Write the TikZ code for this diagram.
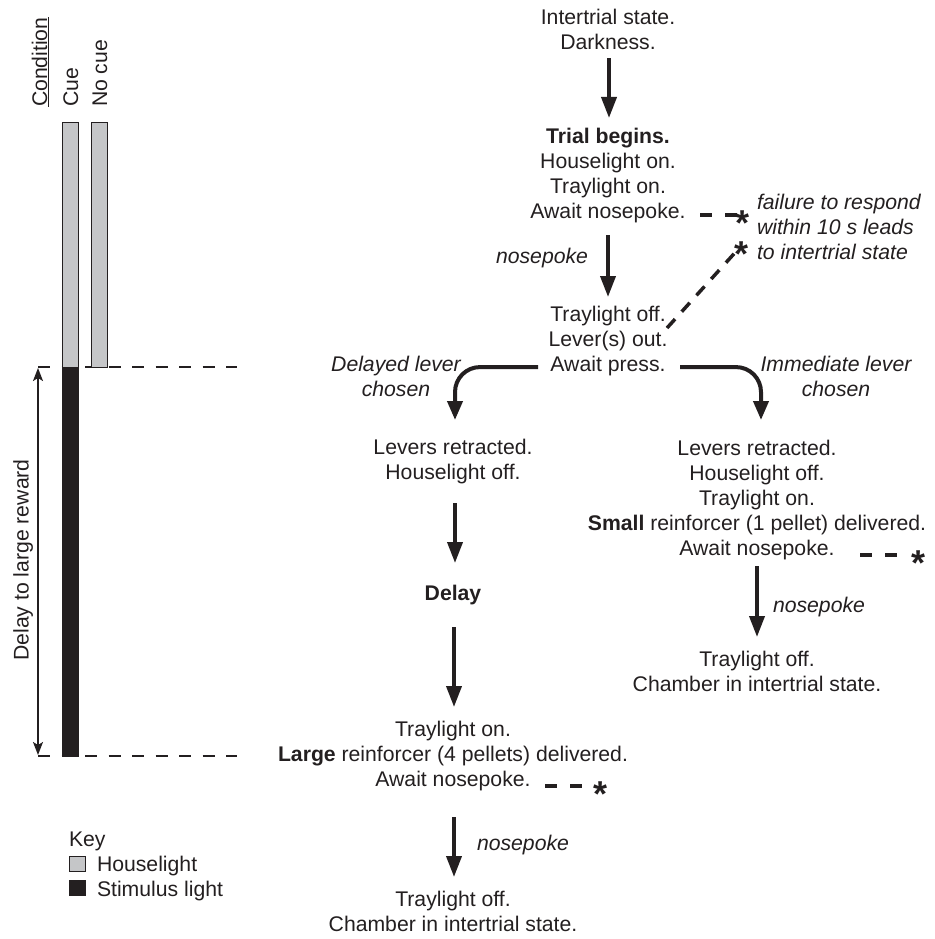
\documentclass[tikz,border=0pt]{standalone}
\usepackage{fontspec}
\setmainfont{Liberation Sans}
\usetikzlibrary{arrows.meta}
\definecolor{ink}{HTML}{231F20}
\definecolor{hl}{HTML}{C5C6C8}
\begin{document}
\begin{tikzpicture}[x=1pt,y=-1pt,
  every node/.style={text=ink, font=\fontsize{21.2}{25}\selectfont, inner sep=0pt, outer sep=0pt},
  stbox/.style={align=center, anchor=north},
  lbl/.style={font=\fontsize{21.2}{25}\selectfont\itshape},
  flowarr/.style={draw=ink, line width=3.8pt, -{Triangle[length=21pt,width=15pt]}},
  brarrow/.style={draw=ink, line width=4pt, rounded corners=25pt, -{Triangle[length=19pt,width=15pt]}},
  fail/.style={draw=ink, line width=3.5pt, dash pattern=on 12pt off 13pt},
  guide/.style={draw=ink, line width=2.5pt, dash pattern=on 12pt off 11.5pt},
  astk/.style={font=\fontsize{36}{36}\selectfont\bfseries, anchor=base, yshift=-20pt},
  dimarr/.style={draw=ink, line width=1.5pt, {Stealth[length=13pt,width=10pt,inset=3pt]}-{Stealth[length=13pt,width=10pt,inset=3pt]}},
]
\useasboundingbox (0,0) rectangle (934,939);

% ---------- left panel ----------
\draw[guide] (38,367) -- (237,367);
\draw[guide] (38,756) -- (237,756);
\filldraw[fill=hl, draw=ink, line width=1pt] (62,123) rectangle (78,367);
\filldraw[fill=ink, draw=ink, line width=1pt] (62,367) rectangle (78,756);
\filldraw[fill=hl, draw=ink, line width=1pt] (91,123) rectangle (107,367);

\node[rotate=90, anchor=base west] (cond) at (47,107) {\underline{Condition}};
\node[rotate=90, anchor=base west] (cue) at (78,107) {Cue};
\node[rotate=90, anchor=base west] (nocue) at (107,107) {No cue};

\coordinate (dtop) at (38,368);
\coordinate (dbot) at (38,755);
\draw[dimarr] (dtop) -- (dbot);
\node[rotate=90, anchor=base] (dlr) at (28.5,560) {Delay to large reward};

\node[anchor=base west] (key) at (69,846) {Key};
\node[draw=ink, fill=hl, line width=1pt, minimum width=16pt, minimum height=15pt, anchor=north west] (kh) at (69.5,856.5) {};
\node[anchor=base west] (khl) at (97,871) {Houselight};
\node[draw=ink, fill=ink, line width=1pt, minimum width=16pt, minimum height=15pt, anchor=north west] (ks) at (69.5,880.5) {};
\node[anchor=base west] (ksl) at (97,896) {Stimulus light};

% ---------- main column ----------
\node[stbox] (n1) at (608,9.3) {Intertrial state.\\Darkness.};
\node[stbox] (n2) at (608,128.3) {\textbf{Trial begins.}\\Houselight on.\\Traylight on.\\Await nosepoke.};
\node[stbox] (n3) at (608,306.3) {Traylight off.\\Lever(s) out.\\Await press.};

\draw[flowarr, shorten <=8.5pt, shorten >=10.3pt] ([xshift=1pt]n1.south) -- ([xshift=1pt]n2.north);
\draw[flowarr, shorten <=12pt, shorten >=9.3pt] (n2.south) -- (n3.north);
\node[lbl, anchor=base east] (np1) at (588,263.5) {nosepoke};

% failure branch
\node[lbl, align=left, anchor=north west] (fail) at (757,194.3) {failure to respond\\within 10 s leads\\to intertrial state};
\coordinate (s1) at (742,215);
\coordinate (s2) at (741,246);
\node[astk] (a1) at (s1) {*};
\node[astk] (a2) at (s2) {*};
\coordinate (d1) at (700,215);
\coordinate (d2) at (667,328);
\draw[fail] (d1) -- (s1);
\draw[fail, dash pattern=on 12pt off 10pt] (d2) -- (s2);

% ---------- left branch ----------
\node[stbox] (L1) at (453,439.3) {Levers retracted.\\Houselight off.};
\node[stbox] (L2) at (453,585.3) {\textbf{Delay}};
\node[stbox] (L3) at (453,721.3) {Traylight on.\\\textbf{Large} reinforcer (4 pellets) delivered.\\Await nosepoke.};
\node[stbox] (L4) at (453,891.3) {Traylight off.\\Chamber in intertrial state.};

\draw[brarrow, shorten >=19.3pt] ([shift={(-10.5,-9)}]n3.south west) -| ([xshift=2pt]L1.north);
\node[lbl, align=center, anchor=north] (dl) at (396,356.3) {Delayed lever\\chosen};

\draw[flowarr, shorten <=19pt, shorten >=22.3pt] ([xshift=2pt]L1.south) -- ([xshift=2pt]L2.north);
\draw[flowarr, shorten <=22pt, shorten >=14.3pt] ([xshift=1pt]L2.south) -- ([xshift=1pt]L3.north);
\draw[flowarr, shorten <=26pt, shorten >=14.3pt] ([xshift=1pt]L3.south) -- ([xshift=1pt]L4.north);
\node[lbl, anchor=base west] (np3) at (477,850.5) {nosepoke};

\coordinate (s4) at (600,786);
\node[astk] (a4) at (s4) {*};
\coordinate (d4) at (545,786);
\draw[fail, shorten >=16pt] (d4) -- (s4);

% ---------- right branch ----------
\node[stbox] (R1) at (757,440.3) {Levers retracted.\\Houselight off.\\Traylight on.\\\textbf{Small} reinforcer (1 pellet) delivered.\\Await nosepoke.};
\node[stbox] (R2) at (757,651.3) {Traylight off.\\Chamber in intertrial state.};

\draw[brarrow, shorten >=20.3pt] ([shift={(12.5,-9)}]n3.south east) -| ([xshift=4pt]R1.north);
\node[lbl, align=center, anchor=north] (il) at (836,356.3) {Immediate lever\\chosen};

\draw[flowarr, shorten <=6pt, shorten >=14.3pt] (R1.south) -- (R2.north);
\node[lbl, anchor=base west] (np2) at (773,612.5) {nosepoke};

\coordinate (s3) at (918,555);
\node[astk] (a3) at (s3) {*};
\coordinate (d3) at (860,555);
\draw[fail, shorten >=18pt] (d3) -- (s3);

\end{tikzpicture}
\end{document}
